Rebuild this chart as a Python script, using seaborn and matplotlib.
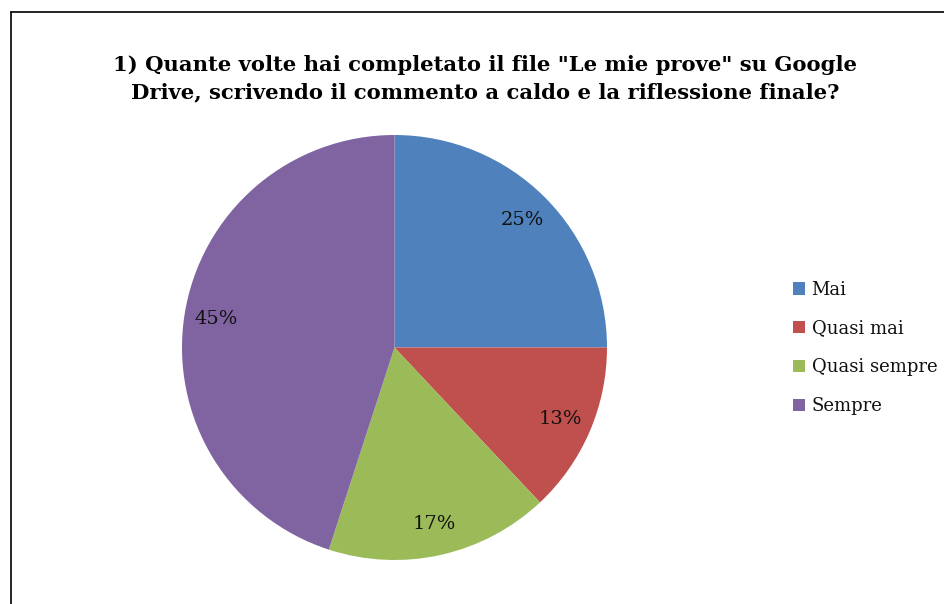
import matplotlib
matplotlib.use("Agg")
import matplotlib.pyplot as plt
import seaborn as sns
from matplotlib.patches import Patch
from matplotlib.lines import Line2D

sns.set_theme(style="white")
plt.rcParams['font.family'] = ['DejaVu Serif']

categories = ["Mai", "Quasi mai", "Quasi sempre", "Sempre"]
values = [25, 13, 17, 45]
colors = ["#4F81BD", "#C0504D", "#9BBB59", "#8064A2"]
title = '1) Quante volte hai completato il file "Le mie prove" su Google\nDrive, scrivendo il commento a caldo e la riflessione finale?'

W, H = 944, 604
fig = plt.figure(figsize=(W / 100, H / 100), dpi=100)
fig.patch.set_facecolor("white")

# pie axes: center (394.5, 347.5) px, radius 212.5 px
cx, cy, r = 394.5, 347.5, 212.5
ax = fig.add_axes([(cx - r) / W, (H - cy - r) / H, 2 * r / W, 2 * r / H])
wedges, texts, autotexts = ax.pie(
    values, colors=colors, startangle=90, counterclock=False,
    autopct=lambda p: f"{p:.0f}%", pctdistance=0.85,
    wedgeprops=dict(linewidth=0),
    textprops=dict(fontsize=14, color="#111111"))
ax.set_xlim(-1, 1)
ax.set_ylim(-1, 1)
ax.set_aspect("auto")

fig.text(485 / W, 1 - 79 / H, title, ha="center", va="center",
         fontsize=15.2, fontweight="bold", linespacing=1.45, color="black")

handles = [Patch(facecolor=c, edgecolor="none") for c in colors]
leg = fig.legend(handles, categories, loc="center left",
                 bbox_to_anchor=(779 / W, 1 - 348 / H), frameon=False,
                 fontsize=13, handlelength=0.65, handleheight=0.65,
                 handletextpad=0.35, labelspacing=1.15, borderpad=0.3)
for t in leg.get_texts():
    t.set_color("#111111")

# frame lines (left and top)
fig.add_artist(Line2D([11 / W, 11 / W], [0, 1 - 12 / H], transform=fig.transFigure,
                      color="black", linewidth=1.2))
fig.add_artist(Line2D([11 / W, 1], [1 - 12 / H, 1 - 12 / H], transform=fig.transFigure,
                      color="black", linewidth=1.2))

fig.savefig("out.png", dpi=100)
